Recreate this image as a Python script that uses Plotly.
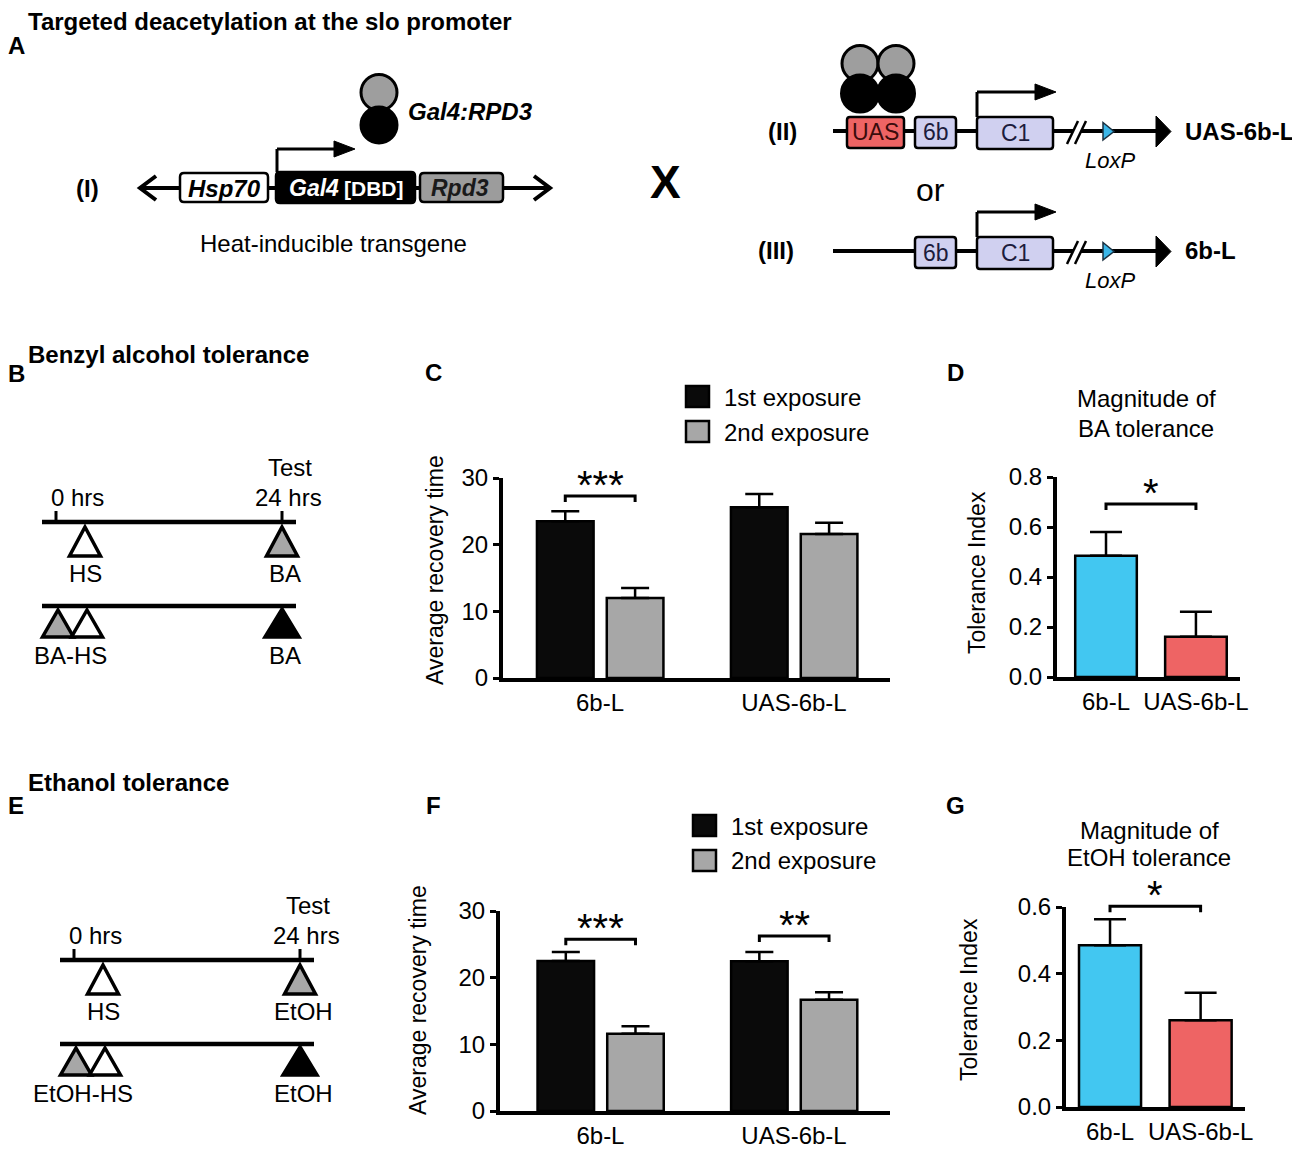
import plotly.graph_objects as go

W, H = 1300, 1155
# the page body adds an 8px margin: draw everything 8px up/left to compensate
OFFSET = 8
FONT = "Liberation Sans, Arial, Helvetica, sans-serif"

# ---------------- data ----------------
genotypes = ["6b-L", "UAS-6b-L"]
exposure_names = ["1st exposure", "2nd exposure"]

# Panel C: benzyl alcohol recovery time
ba_first = [23.5, 25.6]
ba_first_err = [1.5, 2.0]
ba_second = [12.0, 21.6]
ba_second_err = [1.5, 1.7]
ba_sig = ["***", ""]
ba_bracket = [27.3, None]

# Panel D: BA tolerance index
ba_tol = [0.485, 0.161]
ba_tol_err = [0.095, 0.10]
ba_tol_sig = "*"
ba_tol_bracket = 0.692

# Panel F: ethanol recovery time
etoh_first = [22.5, 22.45]
etoh_first_err = [1.35, 1.4]
etoh_second = [11.6, 16.7]
etoh_second_err = [1.1, 1.1]
etoh_sig = ["***", "**"]
etoh_bracket = [25.75, 26.25]

# Panel G: EtOH tolerance index
etoh_tol = [0.485, 0.26]
etoh_tol_err = [0.078, 0.083]
etoh_tol_sig = "*"
etoh_tol_bracket = 0.602

recovery_ticks = [0, 10, 20, 30]
ba_index_ticks = [0.0, 0.2, 0.4, 0.6, 0.8]
etoh_index_ticks = [0.0, 0.2, 0.4, 0.6]

# ---------------- styles ----------------
C_BLACK = "#0a0a0a"
C_GRAY = "#a7a7a7"
C_BLUE = "#42c7f1"
C_RED = "#ee6464"
C_LAV = "#d0d0f0"
C_LOXP = "#3ab6e8"


def px(x):
    return (x - OFFSET) / W


def py(y):
    return 1 - (y - OFFSET) / H


shapes = []
annotations = []


def line(x0, y0, x1, y1, w=3, color="black"):
    shapes.append(dict(type="line", xref="paper", yref="paper",
                       x0=px(x0), y0=py(y0), x1=px(x1), y1=py(y1),
                       line=dict(color=color, width=w)))


def polyline(points, w=3, color="black"):
    path = "M " + " L ".join(f"{px(a):.5f},{py(b):.5f}" for a, b in points)
    shapes.append(dict(type="path", xref="paper", yref="paper", path=path,
                       fillcolor="rgba(0,0,0,0)", line=dict(color=color, width=w)))


def poly(points, fill, lw=3, lc="black"):
    path = "M " + " L ".join(f"{px(a):.5f},{py(b):.5f}" for a, b in points) + " Z"
    shapes.append(dict(type="path", xref="paper", yref="paper", path=path,
                       fillcolor=fill, line=dict(color=lc, width=lw)))


def rrect(x0, y0, x1, y1, fill, r=4, lw=2.5):
    P = lambda a, b: f"{px(a):.5f},{py(b):.5f}"
    path = (f"M {P(x0 + r, y0)} L {P(x1 - r, y0)} Q {P(x1, y0)} {P(x1, y0 + r)} "
            f"L {P(x1, y1 - r)} Q {P(x1, y1)} {P(x1 - r, y1)} "
            f"L {P(x0 + r, y1)} Q {P(x0, y1)} {P(x0, y1 - r)} "
            f"L {P(x0, y0 + r)} Q {P(x0, y0)} {P(x0 + r, y0)} Z")
    shapes.append(dict(type="path", xref="paper", yref="paper", path=path,
                       fillcolor=fill, line=dict(color="black", width=lw)))


def circle(cx, cy, r, fill, lw=3):
    shapes.append(dict(type="circle", xref="paper", yref="paper",
                       x0=px(cx - r), x1=px(cx + r), y0=py(cy + r), y1=py(cy - r),
                       fillcolor=fill, line=dict(color="black", width=lw)))


def rect(x0, y0, x1, y1, fill, lw=2.5):
    shapes.append(dict(type="rect", xref="paper", yref="paper",
                       x0=px(x0), x1=px(x1), y0=py(y1), y1=py(y0),
                       fillcolor=fill, line=dict(color="black", width=lw)))


def text(s, x, y, size=24, weight="normal", style="normal", color="black",
         xanchor="center", yanchor="middle", angle=0):
    annotations.append(dict(text=s, x=px(x), y=py(y), xref="paper", yref="paper",
                            showarrow=False, xanchor=xanchor, yanchor=yanchor,
                            textangle=angle,
                            font=dict(family=FONT, size=size, color=color,
                                      weight=weight, style=style)))


# ---------------- panel A schematic ----------------
text("Targeted deacetylation at the slo promoter", 26, 21, 24, "bold", xanchor="left")
text("A", 16, 45, 24, "bold")

# (I) heat-inducible transgene
text("(I)", 87, 188, 24, "bold")
line(141, 188, 549, 188, 4)
polyline([(156, 176), (140, 188), (156, 200)], 4)
polyline([(534, 176), (550, 188), (534, 200)], 4)
rrect(180, 173, 268, 202, "white")
rrect(276, 172, 415, 203, "black")
rrect(420, 173, 503, 202, "#9c9c9c")
text("Hsp70", 224, 188, 24, "bold", "italic")
text("Gal4", 314, 188, 23, "bold", "italic", color="white")
text("[DBD]", 373, 189, 21, "bold", color="white")
text("Rpd3", 460, 188, 23, "bold", "italic", color="#1a1a1a")
line(277, 172, 277, 149, 3)
line(277, 149, 338, 149, 3)
poly([(334, 141), (355, 149), (334, 157)], "black", 1)
circle(379, 92.5, 18, "#9e9e9e")
circle(379, 125, 18, "black")
text("Gal4:RPD3", 406, 112, 24, "bold", "italic", xanchor="left")
text("Heat-inducible transgene", 334, 243, 24)

text("X", 665, 182, 46, "bold")


def reporter(yc, with_uas):
    line(833, yc, 1073, yc, 4)
    line(1081, yc, 1160, yc, 4)
    line(1067, yc + 13, 1078, yc - 10, 2.5)
    line(1075, yc + 13, 1086, yc - 10, 2.5)
    poly([(1156, yc - 15), (1171, yc + 0.5), (1156, yc + 16)], "black", 1)
    if with_uas:
        rrect(847, yc - 14, 904, yc + 17, C_RED, r=3)
        text("UAS", 875.5, yc + 1.5, 23, color="#3a0c0c")
    rrect(915, yc - 14, 956, yc + 17, C_LAV, r=3)
    text("6b", 935.5, yc + 1.5, 23, color="#1c1c3c")
    rrect(977, yc - 14, 1053, yc + 18, C_LAV, r=3)
    text("C1", 1015, yc + 2, 23, color="#1c1c3c")
    line(977, yc - 14, 977, yc - 39, 3)
    line(977, yc - 39, 1038, yc - 39, 3)
    poly([(1035, yc - 47), (1056, yc - 39), (1035, yc - 31)], "black", 1)
    poly([(1103, yc - 8.5), (1114, yc + 0.5), (1103, yc + 9)], C_LOXP, 1.5, "#1a3040")
    text("LoxP", 1110, yc + 29, 22, style="italic")


text("(II)", 782, 131, 24, "bold")
reporter(131, True)
circle(860, 63.5, 18, "#9e9e9e")
circle(896, 63.5, 18, "#9e9e9e")
circle(860, 93.5, 18.5, "black")
circle(896, 93.5, 18.5, "black")
text("UAS-6b-L", 1183, 132, 24, "bold", xanchor="left")

text("or", 930, 190, 32)

text("(III)", 776, 251, 24, "bold")
reporter(251, False)
text("6b-L", 1183, 251, 24, "bold", xanchor="left")


# ---------------- timeline panels B / E ----------------
def timeline(dx, dy, agent, combo, combo_x):
    x0, x1 = 42 + dx, 296 + dx
    t0, t24 = 56 + dx, 282 + dx
    y1, y2 = 522 + dy, 606 + dy
    text("Test", 290 + dx, 467 + dy, 24)
    text("0 hrs", 77 + dx, 497 + dy, 24)
    text("24 hrs", 288 + dx, 497 + dy, 24)
    line(x0, y1, x1, y1, 4.5)
    line(t0, y1, t0, y1 - 11, 3)
    line(t24, y1, t24, y1 - 11, 3)

    def tri(xc, ya, fill, hw=15.5, hgt=29):
        poly([(xc, ya), (xc + hw, ya + hgt), (xc - hw, ya + hgt)], fill, 3.5)

    tri(85 + dx, 527 + dy, "white")
    tri(282 + dx, 527 + dy, C_GRAY)
    text("HS", 85 + dx, 573 + dy, 24)
    text(agent, 285 + dx, 573 + dy, 24)
    line(x0, y2, x1, y2, 4.5)
    tri(58 + dx, 610 + dy, C_GRAY, hgt=27)
    tri(87 + dx, 610 + dy, "white", hgt=27)
    tri(282 + dx, 609 + dy, "black", hw=17, hgt=28)
    text(combo, combo_x, 655 + dy, 24)
    text(agent, 285 + dx, 655 + dy, 24)


text("Benzyl alcohol tolerance", 26, 354, 24, "bold", xanchor="left")
text("B", 16, 373, 24, "bold")
timeline(0, 0, "BA", "BA-HS", 70)

text("Ethanol tolerance", 26, 782, 24, "bold", xanchor="left")
text("E", 16, 805, 24, "bold")
timeline(18, 438, "EtOH", "EtOH-HS", 83)

# ---------------- bar chart panels ----------------
# pixel boxes of each plotting area: (left, right, top, bottom) and x/y ranges
panels = {
    "C": dict(box=(503, 890, 478, 678), xr=(-0.5, 1.495), yr=(0, 30)),
    "D": dict(box=(1057, 1240, 477, 677), xr=(-0.545, 1.49), yr=(0, 0.8)),
    "F": dict(box=(500, 890, 911, 1111), xr=(-0.519, 1.496), yr=(0, 30)),
    "G": dict(box=(1066, 1245, 907, 1107), xr=(-0.486, 1.49), yr=(0, 0.6)),
}
axis_ids = {"C": "", "D": "2", "F": "3", "G": "4"}


def dpx(p, xv):
    l, r, t, b = panels[p]["box"]
    a, c = panels[p]["xr"]
    return l + (xv - a) / (c - a) * (r - l)


def dpy(p, yv):
    l, r, t, b = panels[p]["box"]
    a, c = panels[p]["yr"]
    return b - (yv - a) / (c - a) * (b - t)


fig = go.Figure()
xpos = list(range(len(genotypes)))

OFF1, OFF2, BW2 = -0.325, 0.035, 0.292
TOLW = 0.685


def grouped(p, first, first_err, second, second_err):
    k = axis_ids[p]
    for vals, errs, col, off, name in [
        (first, first_err, C_BLACK, OFF1, exposure_names[0]),
        (second, second_err, C_GRAY, OFF2, exposure_names[1]),
    ]:
        fig.add_trace(go.Bar(
            x=xpos, y=vals, width=BW2, offset=off, name=name, showlegend=False,
            marker=dict(color=col, line=dict(color="black", width=2.5)),
            error_y=dict(type="data", symmetric=False, array=errs,
                         arrayminus=[0] * len(errs), thickness=2.5, width=14,
                         color="black"),
            xaxis="x" + k, yaxis="y" + k))


def single(p, vals, errs):
    k = axis_ids[p]
    fig.add_trace(go.Bar(
        x=xpos, y=vals, width=TOLW, offset=-TOLW / 2, showlegend=False,
        marker=dict(color=[C_BLUE, C_RED], line=dict(color="black", width=2.5)),
        error_y=dict(type="data", symmetric=False, array=errs,
                     arrayminus=[0] * len(errs), thickness=2.5, width=16,
                     color="black"),
        xaxis="x" + k, yaxis="y" + k))


grouped("C", ba_first, ba_first_err, ba_second, ba_second_err)
single("D", ba_tol, ba_tol_err)
grouped("F", etoh_first, etoh_first_err, etoh_second, etoh_second_err)
single("G", etoh_tol, etoh_tol_err)


def bracket(p, xl, xr, yv, label):
    yb = dpy(p, yv)
    a, b = dpx(p, xl), dpx(p, xr)
    polyline([(a, yb + 6), (a, yb), (b, yb), (b, yb + 6)], 3)
    text(label, (a + b) / 2, yb - 11, 40)


c1 = OFF1 + BW2 / 2
c2 = OFF2 + BW2 / 2
for i, s in enumerate(ba_sig):
    if s:
        bracket("C", i + c1, i + c2, ba_bracket[i], s)
for i, s in enumerate(etoh_sig):
    if s:
        bracket("F", i + c1, i + c2, etoh_bracket[i], s)
bracket("D", 0, 1, ba_tol_bracket, ba_tol_sig)
bracket("G", 0, 1, etoh_tol_bracket, etoh_tol_sig)

# panel letters, titles, axis titles, legends
text("C", 433, 372, 24, "bold")
text("D", 955, 372, 24, "bold")
text("F", 433, 805, 24, "bold")
text("G", 955, 805, 24, "bold")
text("Average recovery time", 435, 570, 23, angle=-90)
text("Average recovery time", 418, 1000, 23, angle=-90)
text("Tolerance Index", 977, 573, 23, angle=-90)
text("Tolerance Index", 969, 1000, 23, angle=-90)
text("Magnitude of", 1146, 399, 24)
text("BA tolerance", 1146, 428, 24)
text("Magnitude of", 1149, 830, 24)
text("EtOH tolerance", 1149, 858, 24)


def legend(x, y):
    rect(x, y, x + 23, y + 21, C_BLACK)
    rect(x, y + 35, x + 23, y + 56, C_GRAY)
    text(exposure_names[0], x + 36, y + 11, 24, xanchor="left")
    text(exposure_names[1], x + 36, y + 46, 24, xanchor="left")


legend(686, 386)
legend(693, 815)

layout_axes = {}
tick_sets = {"C": recovery_ticks, "D": ba_index_ticks, "F": recovery_ticks, "G": etoh_index_ticks}
for p, cfg in panels.items():
    k = axis_ids[p]
    l, r, t, b = cfg["box"]
    layout_axes["xaxis" + k] = dict(
        domain=[px(l), px(r)], range=list(cfg["xr"]), anchor="y" + k,
        tickmode="array", tickvals=xpos, ticktext=genotypes,
        showline=True, linewidth=4, linecolor="black", ticks="",
        showgrid=False, zeroline=False, fixedrange=True,
        tickfont=dict(family=FONT, size=24, color="black"))
    tv = tick_sets[p]
    layout_axes["yaxis" + k] = dict(
        domain=[py(b), py(t)], range=list(cfg["yr"]), anchor="x" + k,
        tickmode="array", tickvals=tv,
        ticktext=[(f"{v:.1f}" if isinstance(v, float) else str(v)) for v in tv],
        showline=True, linewidth=4, linecolor="black", ticks="outside",
        ticklen=6, tickwidth=3, tickcolor="black",
        showgrid=False, zeroline=False, fixedrange=True,
        tickfont=dict(family=FONT, size=24, color="black"))

fig.update_layout(
    width=W, height=H,
    margin=dict(l=0, r=0, t=0, b=0, pad=0, autoexpand=False),
    paper_bgcolor="white", plot_bgcolor="white",
    barmode="overlay", showlegend=False,
    font=dict(family=FONT, color="black"),
    shapes=shapes, annotations=annotations,
    **layout_axes)

fig.write_html("out.html")
